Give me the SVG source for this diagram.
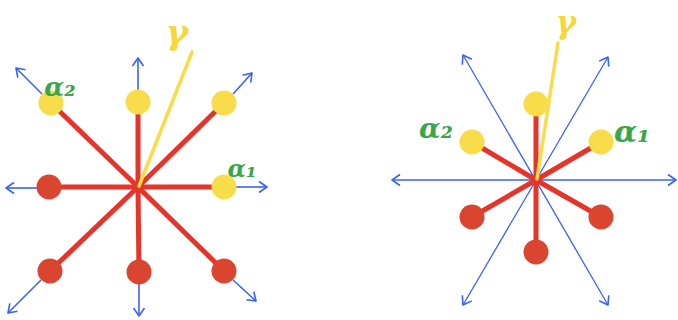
<svg xmlns="http://www.w3.org/2000/svg" width="678" height="320" viewBox="0 0 678 320">
<style>
.red{stroke:#e5352a;stroke-width:5;stroke-linecap:round;fill:none}
.blue{stroke:#3a63f0;stroke-width:1.6;fill:none;marker-end:url(#ah)}
.blue2{stroke:#3a63f0;stroke-width:1.3;fill:none;marker-end:url(#ah);marker-start:url(#ah)}
.gam{stroke:#f9dc4a;stroke-width:3.5;stroke-linecap:round}
.y{fill:#f9dc4a}
.r{fill:#d9452f}
.lblg{fill:#3aa648;font-family:"DejaVu Serif",serif;font-style:italic;font-weight:bold}
.lbly{fill:#f6d733;font-family:"DejaVu Serif",serif;font-style:italic;font-weight:bold}
</style>
<defs>
<marker id="ah" markerUnits="userSpaceOnUse" markerWidth="14" markerHeight="14" refX="0" refY="0" viewBox="-10 -7 12 14" orient="auto-start-reverse">
<path d="M-8,-5.5 L0,0 L-8,5.5" fill="none" stroke="#3a63f0" stroke-width="1.6" stroke-linejoin="round"/>
</marker>
</defs>
<rect width="678" height="320" fill="#fff"/>
<g id="connectors">
<line class="blue" x1="138" y1="90" x2="138" y2="58"/>
<line class="blue" x1="42" y1="94" x2="16" y2="68"/>
<line class="blue" x1="233" y1="94" x2="252" y2="73"/>
<line class="blue" x1="236" y1="187" x2="267" y2="187"/>
<line class="blue" x1="37" y1="188" x2="6" y2="188"/>
<line class="blue" x1="41" y1="280" x2="8" y2="313"/>
<line class="blue" x1="139" y1="284" x2="139" y2="316"/>
<line class="blue" x1="233" y1="280" x2="256" y2="301"/>
<line class="red" x1="138" y1="187" x2="51" y2="103"/>
<line class="red" x1="138" y1="187" x2="138" y2="102"/>
<line class="red" x1="138" y1="187" x2="224" y2="103"/>
<line class="red" x1="138" y1="187" x2="224" y2="187"/>
<line class="red" x1="138" y1="187" x2="49" y2="187"/>
<line class="red" x1="138" y1="187" x2="50" y2="271"/>
<line class="red" x1="138" y1="187" x2="139" y2="272"/>
<line class="red" x1="138" y1="187" x2="224" y2="271"/>
<line class="gam" x1="139" y1="186" x2="192" y2="52"/>
<line class="blue2" x1="392" y1="180" x2="676" y2="180"/>
<line class="blue2" x1="463" y1="55" x2="608" y2="305"/>
<line class="blue2" x1="608" y1="57" x2="463" y2="305"/>
<line class="red" x1="536" y1="180" x2="536" y2="104"/>
<line class="red" x1="536" y1="180" x2="472" y2="142"/>
<line class="red" x1="536" y1="180" x2="601" y2="142"/>
<line class="red" x1="536" y1="180" x2="472" y2="217"/>
<line class="red" x1="536" y1="180" x2="601" y2="217"/>
<line class="red" x1="536" y1="180" x2="536" y2="252"/>
<line class="gam" x1="537" y1="179" x2="558" y2="43"/>
</g>
<g id="left-n1"><circle class="y" cx="51" cy="103" r="12.5"/></g>
<g id="left-n2"><circle class="y" cx="138" cy="102" r="12.5"/></g>
<g id="left-n3"><circle class="y" cx="224" cy="103" r="12.5"/></g>
<g id="left-n4"><circle class="y" cx="224" cy="187" r="12.5"/></g>
<g id="left-n5"><circle class="r" cx="49" cy="187" r="12.5"/></g>
<g id="left-n6"><circle class="r" cx="50" cy="271" r="12.5"/></g>
<g id="left-n7"><circle class="r" cx="139" cy="272" r="12.5"/></g>
<g id="left-n8"><circle class="r" cx="224" cy="271" r="12.5"/></g>
<g id="right-n1"><circle class="y" cx="536" cy="104" r="12.5"/></g>
<g id="right-n2"><circle class="y" cx="472" cy="142" r="12.5"/></g>
<g id="right-n3"><circle class="y" cx="601" cy="142" r="12.5"/></g>
<g id="right-n4"><circle class="r" cx="472" cy="217" r="12.5"/></g>
<g id="right-n5"><circle class="r" cx="601" cy="217" r="12.5"/></g>
<g id="right-n6"><circle class="r" cx="536" cy="252" r="12.5"/></g>
<g id="labels">
<text class="lbly" x="177" y="44" font-size="34" text-anchor="middle">γ</text>
<text class="lblg" x="60" y="96" font-size="26" text-anchor="middle">α₂</text>
<text class="lblg" x="242" y="177" font-size="24" text-anchor="middle">α₁</text>
<text class="lbly" x="566" y="33" font-size="31" text-anchor="middle">γ</text>
<text class="lblg" x="436" y="138" font-size="28" text-anchor="middle">α₂</text>
<text class="lblg" x="632" y="142" font-size="30" text-anchor="middle">α₁</text>
</g>
</svg>
